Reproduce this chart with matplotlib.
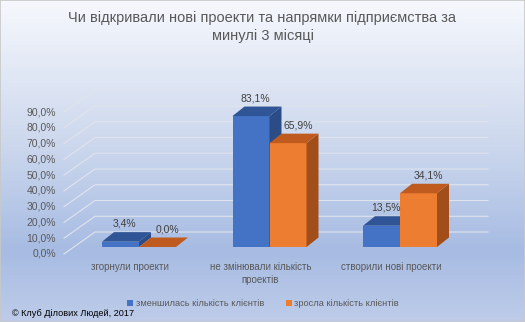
import matplotlib
matplotlib.use('Agg')
import matplotlib.pyplot as plt
from matplotlib.colors import LinearSegmentedColormap
from matplotlib.patches import Polygon
from matplotlib import font_manager
import numpy as np

# дані
categories = ['згорнули проекти', 'не змінювали кількість\nпроектів', 'створили нові проекти']
series_names = ['зменшилась кількість клієнтів', 'зросла кількість клієнтів']
decreased = [3.4, 83.1, 13.5]
increased = [0.0, 65.9, 34.1]
ticks = [0, 10, 20, 30, 40, 50, 60, 70, 80, 90]
title = 'Чи відкривали нові проекти та напрямки підприємства за\nминулі 3 місяці'
note = '© Клуб Ділових Людей, 2017'

names = {f.name for f in font_manager.fontManager.ttflist}
FONT = 'Liberation Sans Narrow' if 'Liberation Sans Narrow' in names else 'Liberation Sans'
W, H = 525, 322
# пікселі -> одиниці даних (фронтальна площина)
X0PIX, XSTEP = 139, 130.5
Y0PIX, YSTEP = 247, 1.576


def px(x):
    return (x - X0PIX) / XSTEP


def py(y):
    return (Y0PIX - y) / YSTEP


fig = plt.figure(figsize=(W / 100, H / 100), dpi=100)
ax = fig.add_axes([0, 0, 1, 1])
ax.set_xlim(px(0), px(W))
ax.set_ylim(py(H), py(0))
ax.axis('off')

# фон з градієнтом
grad = LinearSegmentedColormap.from_list('bg', [
    (0.0, (0.965, 0.973, 0.992)),
    (0.45, (0.80, 0.845, 0.93)),
    (0.78, (0.655, 0.735, 0.89)),
    (1.0, (0.745, 0.80, 0.915))])
ax.imshow(np.linspace(0, 1, 256).reshape(-1, 1), cmap=grad, aspect='auto',
          extent=[px(0), px(W), py(H), py(0)], zorder=0)

# сітка в перспективі
front_dy = -4.4
back_dy = 9.5
x_front, x_back, x_end = px(64), px(95), px(488)
for t in ticks:
    ax.plot([x_front, x_back, x_end], [t + front_dy, t + back_dy, t + back_dy],
            color='#e0e4ec', lw=0.8, zorder=1)
    ax.text(px(56), t + front_dy, f'{t:.1f}%'.replace('.', ','), ha='right', va='center',
            fontsize=7.5, color='#595959', family=FONT)

# стовпці з об'ємом
bw = 37 / XSTEP
ddx, ddy = 12 / XSTEP, 9.5 / YSTEP
colors = [('#4472c4', '#2f5597', '#2b4c86'), ('#ed7d31', '#bf5b1e', '#a24e1a')]
label_shift = [4 / XSTEP, 10 / XSTEP]
for s, vals in enumerate([decreased, increased]):
    front, top, side = colors[s]
    for i, v in enumerate(vals):
        x0 = i - bw + s * bw
        x1 = x0 + bw
        ax.bar(x0, v, bw, align='edge', color=front, lw=0, zorder=3 + s)
        ax.add_patch(Polygon([(x1, 0), (x1, v), (x1 + ddx, v + ddy), (x1 + ddx, ddy)],
                             closed=True, fc=side, lw=0, zorder=3 + s))
        ax.add_patch(Polygon([(x0, v), (x1, v), (x1 + ddx, v + ddy), (x0 + ddx, v + ddy)],
                             closed=True, fc=top, lw=0, zorder=3 + s))
        ax.text(x0 + bw / 2 + label_shift[s], v + ddy + 2.2, f'{v:.1f}%'.replace('.', ','),
                ha='center', va='bottom', fontsize=7.5, color='#404040', family=FONT, zorder=6)

# підписи категорій
for i, c in enumerate(categories):
    ax.text(i - 9 / XSTEP, py(262), c, ha='center', va='top', fontsize=7,
            color='#595959', family=FONT, linespacing=1.35)

# заголовок
fig.text(0.5, 1 - 27 / H, title, ha='center', va='center', fontsize=10.5,
         color='#595959', family=FONT, linespacing=1.35)

# легенда
handles = [plt.Rectangle((0, 0), 1, 1, fc=colors[k][0]) for k in range(2)]
fig.legend(handles, series_names, loc='center', bbox_to_anchor=(263 / W, 1 - 304 / H),
           ncol=2, frameon=False, handlelength=0.65, handleheight=0.65, handletextpad=0.3,
           columnspacing=2.3, prop={'family': FONT, 'size': 6.7}, labelcolor='#595959')

fig.text(12 / W, 1 - 314 / H, note, ha='left', va='center', fontsize=6.6,
         color='black', family=FONT)

fig.patches.append(plt.Rectangle((0, 0), 1, 1, transform=fig.transFigure, fill=False,
                                 ec='#c8c8c8', lw=1.2))

fig.savefig('out.png', dpi=100)
